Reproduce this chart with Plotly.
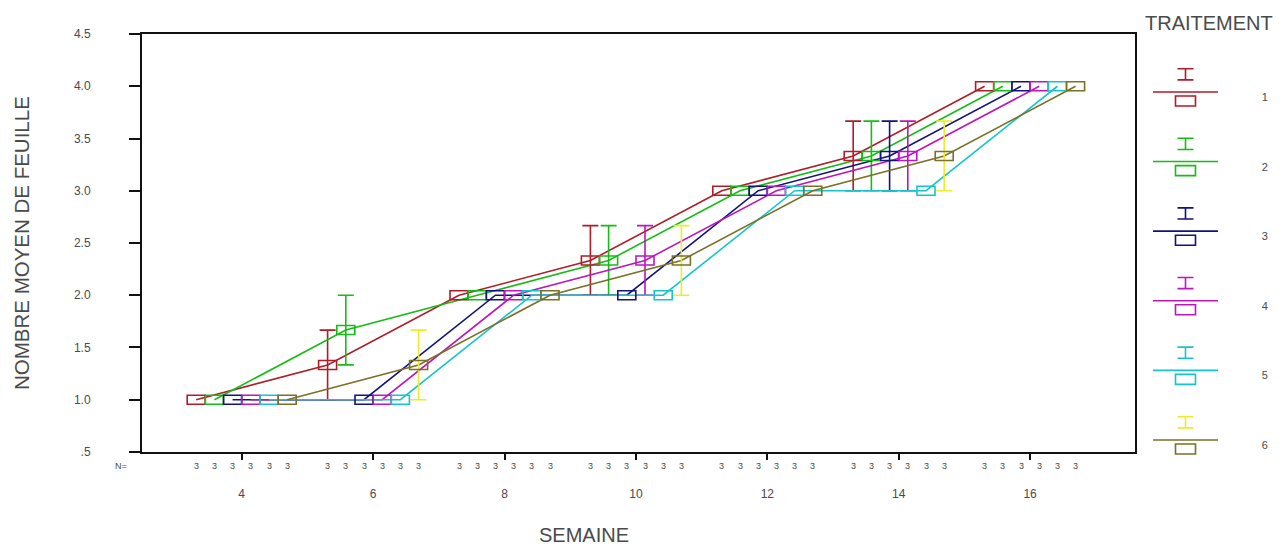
import plotly.graph_objects as go

# ---------------- data ----------------
weeks = [4, 6, 8, 10, 12, 14, 16]
week_labels = ["4", "6", "8", "10", "12", "14", "16"]
treatments = ["1", "2", "3", "4", "5", "6"]

mean_t1 = [1.0, 1.333, 2.0, 2.333, 3.0, 3.333, 4.0]
mean_t2 = [1.0, 1.667, 2.0, 2.333, 3.0, 3.333, 4.0]
mean_t3 = [1.0, 1.0, 2.0, 2.0, 3.0, 3.333, 4.0]
mean_t4 = [1.0, 1.0, 2.0, 2.333, 3.0, 3.333, 4.0]
mean_t5 = [1.0, 1.0, 2.0, 2.0, 3.0, 3.0, 4.0]
mean_t6 = [1.0, 1.333, 2.0, 2.333, 3.0, 3.333, 4.0]

se_t1 = [0, 0.333, 0, 0.333, 0, 0.333, 0]
se_t2 = [0, 0.333, 0, 0.333, 0, 0.333, 0]
se_t3 = [0, 0, 0, 0, 0, 0.333, 0]
se_t4 = [0, 0, 0, 0.333, 0, 0.333, 0]
se_t5 = [0, 0, 0, 0, 0, 0, 0]
se_t6 = [0, 0.333, 0, 0.333, 0, 0.333, 0]

n_obs = [3, 3, 3, 3, 3, 3, 3]

y_ticks = [0.5, 1.0, 1.5, 2.0, 2.5, 3.0, 3.5, 4.0, 4.5]
y_tick_labels = [".5", "1.0", "1.5", "2.0", "2.5", "3.0", "3.5", "4.0", "4.5"]

means = [mean_t1, mean_t2, mean_t3, mean_t4, mean_t5, mean_t6]
ses = [se_t1, se_t2, se_t3, se_t4, se_t5, se_t6]

# ---------------- style ----------------
line_colors = ["#b01c28", "#16bc16", "#12127a", "#bc16bc", "#16c4cc", "#7a7026"]
err_colors = ["#b01c28", "#16bc16", "#12127a", "#bc16bc", "#16c4cc", "#ecec2a"]
FONT = "Liberation Sans, Arial, sans-serif"
TXT = "#4a4a4a"
DODGE = 0.277          # x-offset between treatments inside a week group
LW = 1.6

fig = go.Figure()
shapes = []
annotations = []

n_tr = len(treatments)
for i, (tr, m, s) in enumerate(zip(treatments, means, ses)):
    off = (i - (n_tr - 1) / 2) * DODGE
    xs = [w + off for w in weeks]
    # connecting line
    fig.add_trace(go.Scatter(
        x=xs, y=m, mode="lines", name=tr, showlegend=False,
        line=dict(color=line_colors[i], width=LW), hoverinfo="skip"))
    # error bars (only where there is variability)
    ex = [x for x, e in zip(xs, s) if e > 0]
    ey = [y for y, e in zip(m, s) if e > 0]
    ee = [e for e in s if e > 0]
    if ex:
        fig.add_trace(go.Scatter(
            x=ex, y=ey, mode="markers", showlegend=False, hoverinfo="skip",
            marker=dict(size=1, color="rgba(0,0,0,0)"),
            error_y=dict(type="data", array=ee, visible=True,
                         color=err_colors[i], thickness=LW, width=8)))
    # hollow rectangle markers
    for x, y in zip(xs, m):
        shapes.append(dict(
            type="rect", xref="x", yref="y", xsizemode="pixel", ysizemode="pixel",
            xanchor=x, yanchor=y, x0=-9, x1=9, y0=-4.5, y1=4.5,
            line=dict(color=line_colors[i], width=LW), fillcolor="rgba(0,0,0,0)",
            layer="above"))
    # N counts under the axis
    for x, n in zip(xs, n_obs):
        annotations.append(dict(
            x=x, y=0, xref="x", yref="y domain", yanchor="middle", yshift=-14,
            text=str(n), showarrow=False, font=dict(family=FONT, size=9, color=TXT)))

# ---------------- legend drawn on its own small axes ----------------
entry_idx = list(range(1, n_tr + 1))
for i, k in enumerate(entry_idx):
    fig.add_trace(go.Scatter(
        x=[0, 1], y=[k, k], xaxis="x2", yaxis="y2", mode="lines",
        showlegend=False, hoverinfo="skip",
        line=dict(color=line_colors[i], width=LW)))
    fig.add_trace(go.Scatter(
        x=[0.5], y=[k - 0.254], xaxis="x2", yaxis="y2", mode="markers",
        showlegend=False, hoverinfo="skip",
        marker=dict(size=1, color="rgba(0,0,0,0)"),
        error_y=dict(type="data", array=[0.08], visible=True,
                     color=err_colors[i], thickness=LW, width=8)))
    shapes.append(dict(
        type="rect", xref="x2", yref="y2", xsizemode="pixel", ysizemode="pixel",
        xanchor=0.5, yanchor=k + 0.13, x0=-10, x1=10, y0=-5, y1=5,
        line=dict(color=line_colors[i], width=LW), fillcolor="rgba(0,0,0,0)",
        layer="above"))
fig.add_trace(go.Scatter(
    x=[1.72] * n_tr, y=[k + 0.09 for k in entry_idx], xaxis="x2", yaxis="y2",
    mode="text", text=treatments, showlegend=False, hoverinfo="skip",
    cliponaxis=False, textfont=dict(family=FONT, size=11, color=TXT)))

# ---------------- titles / extra text ----------------
annotations += [
    dict(text="NOMBRE MOYEN DE FEUILLE", textangle=-90, xref="paper", yref="y domain",
         x=-0.1054, y=0.5, xanchor="center", yanchor="middle", showarrow=False,
         font=dict(family=FONT, size=20.5, color=TXT)),
    dict(text="SEMAINE", xref="paper", yref="y domain", x=0.3884, y=-0.199,
         xanchor="center", yanchor="middle", showarrow=False,
         font=dict(family=FONT, size=20, color=TXT)),
    dict(text="N=", xref="x domain", yref="y domain", x=-0.021, y=0, yshift=-14,
         xanchor="center", yanchor="middle", showarrow=False,
         font=dict(family=FONT, size=9, color=TXT)),
    dict(text="TRAITEMENT", xref="paper", yref="y domain", x=0.9376, y=1.0275,
         xanchor="center", yanchor="middle", showarrow=False,
         font=dict(family=FONT, size=20, color=TXT)),
]

fig.update_layout(
    width=1287, height=548,
    margin=dict(l=142, r=7, t=34, b=80),
    paper_bgcolor="white", plot_bgcolor="white",
    font=dict(family=FONT, color=TXT),
    shapes=shapes, annotations=annotations,
    xaxis=dict(domain=[0, 0.8726], range=[2.4825, 17.597],
               tickvals=weeks, ticktext=week_labels,
               ticks="outside", ticklen=6, tickwidth=2, tickcolor="#111",
               showline=True, linecolor="#111", linewidth=2, mirror=True,
               showgrid=False, zeroline=False, ticklabelstandoff=24,
               tickfont=dict(family=FONT, size=12, color=TXT)),
    yaxis=dict(domain=[0.0369, 1], range=[0.5, 4.5],
               tickvals=y_ticks, ticktext=y_tick_labels,
               ticks="outside", ticklen=11, tickwidth=2, tickcolor="#111",
               showline=True, linecolor="#111", linewidth=2, mirror=True,
               showgrid=False, zeroline=False, ticklabelstandoff=36,
               tickfont=dict(family=FONT, size=12, color=TXT)),
    xaxis2=dict(domain=[0.8884, 0.9956], range=[0, 1.877], visible=False,
                anchor="y2", fixedrange=True),
    yaxis2=dict(domain=[0, 1], range=[6.403, 0.167], visible=False,
                anchor="x2", fixedrange=True),
)

fig.write_html("out.html",
               config={"displayModeBar": False},
               post_script="document.body.style.margin='0';"
                           "document.body.style.overflow='hidden';")
